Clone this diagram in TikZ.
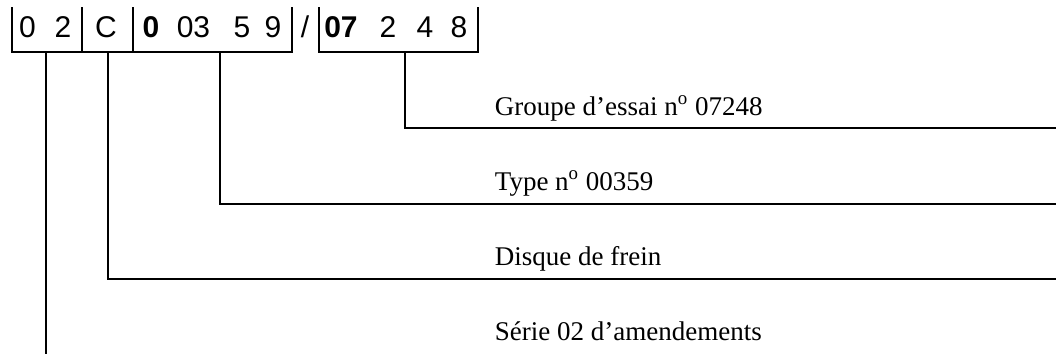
\documentclass[tikz,border=0pt]{standalone}
\usepackage{fontspec}
\setmainfont{Liberation Serif}
\newfontfamily\arialfont{Liberation Sans}
\begin{document}
\begin{tikzpicture}[x=0.5pt,y=-0.5pt,line width=0.9pt,
    digit/.style={anchor=base,inner sep=0pt,font=\arialfont\fontsize{15}{17}\selectfont},
    infotext/.style={anchor=base west,inner sep=0pt,font=\fontsize{13.5}{16}\selectfont}]
  \useasboundingbox (0,0) rectangle (1056,354);
  % approval number boxes
  \draw (12,7) -- (12,52) -- (292,52) -- (292,7);
  \draw (82,7) -- (82,52);
  \draw (133,7) -- (133,52);
  \draw (319,7) -- (319,52) -- (478,52) -- (478,7);
  \node[digit] (s1) at (27.5,37) {0};
  \node[digit] (s2) at (63,37) {2};
  \node[digit] (cat) at (106,37) {C};
  \node[digit] (t1) at (151,37) {\bfseries 0};
  \node[digit] (t2) at (193.5,37) {03};
  \node[digit] (t3) at (242,37) {5};
  \node[digit] (t4) at (273,37) {9};
  \node[digit] (slash) at (305,37) {/};
  \node[digit] (g1) at (341,37) {\bfseries 07};
  \node[digit] (g2) at (388,37) {2};
  \node[digit] (g3) at (425,37) {4};
  \node[digit] (g4) at (459,37) {8};
  % explanations
  \node[infotext] (groupe) at (494,115) {Groupe d’essai n\textsuperscript{o} 07248};
  \node[infotext] (type) at (494,190) {Type n\textsuperscript{o} 00359};
  \node[infotext] (disque) at (494,265) {Disque de frein};
  \node[infotext] (serie) at (494,340) {Série 02 d’amendements};
  % leader lines
  \coordinate (serieTick) at (46,52);
  \coordinate (discTick) at (108,52);
  \coordinate (typeTick) at (220,52);
  \coordinate (groupTick) at (405,52);
  \coordinate (serieEnd) at (46,354);
  \coordinate (discEnd) at (1056,279);
  \coordinate (typeEnd) at (1056,204);
  \coordinate (groupEnd) at (1056,128);
  \draw (groupTick) |- (groupEnd);
  \draw (typeTick) |- (typeEnd);
  \draw (discTick) |- (discEnd);
  \draw (serieTick) -- (serieEnd);
\end{tikzpicture}
\end{document}
